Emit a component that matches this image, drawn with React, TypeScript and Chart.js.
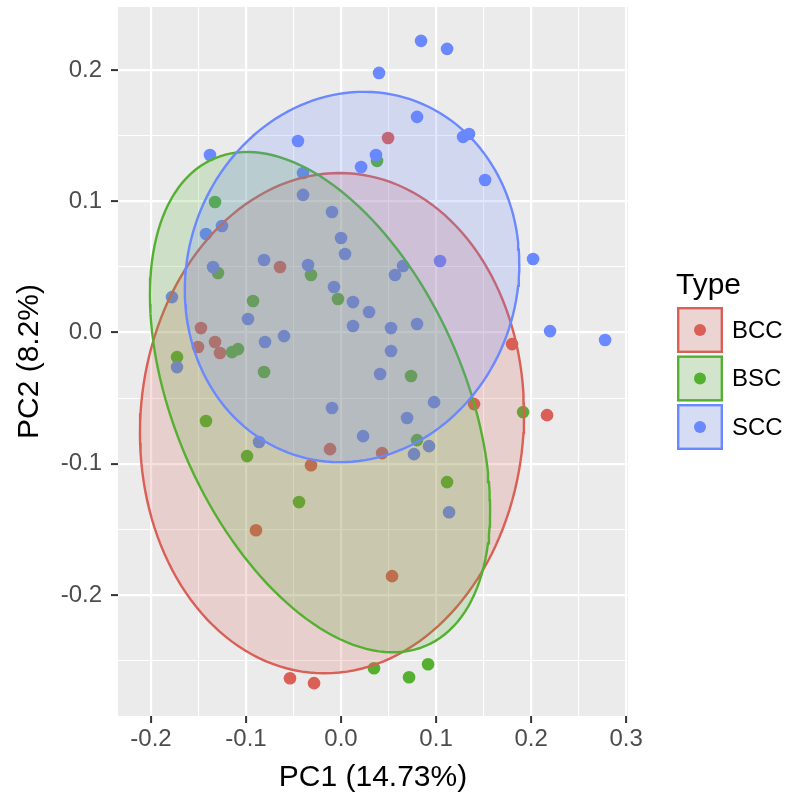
import React, { useEffect, useRef } from 'react';
import { Chart, registerables } from 'chart.js';
Chart.register(...registerables);

const FONT = "'Liberation Sans', Arial, Helvetica, sans-serif";

const typeNames = ['BCC', 'BSC', 'SCC'];
const typeColors = ['#D95F57', '#55B032', '#6A88FF'];
const typeFills = ['rgba(217,95,87,0.2)', 'rgba(85,176,50,0.2)', 'rgba(106,136,255,0.2)'];

const bccX = [0.0495, -0.0642, -0.1474, -0.1326, -0.1505, -0.1274, 0.18, 0.14, 0.2168, 0.0432, -0.0116, -0.0316, -0.0895, 0.0537, -0.0537, -0.0284];
const bccY = [0.1482, 0.0499, 0.0034, -0.0072, -0.011, -0.0156, -0.0088, -0.0545, -0.0629, -0.0918, -0.0888, -0.101, -0.1505, -0.1855, -0.2632, -0.267];

const bscX = [0.0379, -0.1326, -0.1295, -0.0316, -0.0032, -0.0926, -0.1084, -0.1147, -0.1726, -0.081, 0.0737, -0.1421, 0.1916, 0.08, -0.0989, 0.1116, -0.0442, 0.0347, 0.0716, 0.0916];
const bscY = [0.1307, 0.0994, 0.0453, 0.0438, 0.0255, 0.024, -0.0126, -0.0149, -0.0187, -0.0301, -0.0331, -0.0674, -0.0606, -0.0819, -0.0941, -0.1139, -0.1291, -0.2556, -0.2625, -0.2526];

const sccX = [0.0842, 0.1116, 0.04, 0.08, 0.1284, 0.1347, -0.0453, -0.1379, 0.0368, 0.0211, 0.1516, -0.04, -0.04, -0.0095, -0.1253, -0.1421, 0, 0.0042, -0.081, -0.0347, -0.1347, -0.0074, 0.0126, 0.0295, 0.0126, -0.1779, -0.0979, -0.06, -0.08, -0.1726, 0.2021, 0.1042, 0.0653, 0.0568, 0.0526, 0.08, 0.22, 0.2779, 0.0526, 0.0411, 0.0979, 0.0695, 0.0926, 0.0768, -0.0095, 0.0232, -0.0863, 0.1137];
const sccY = [0.2221, 0.216, 0.1977, 0.1642, 0.149, 0.1512, 0.1459, 0.1352, 0.1352, 0.1261, 0.1162, 0.1215, 0.1048, 0.0918, 0.0811, 0.075, 0.072, 0.0598, 0.0552, 0.0514, 0.0499, 0.0347, 0.0232, 0.0156, 0.005, 0.027, 0.0103, -0.0027, -0.0072, -0.0263, 0.056, 0.0545, 0.0507, 0.0438, 0.0034, 0.0065, 0.0011, -0.0057, -0.0141, -0.0316, -0.053, -0.0651, -0.0865, -0.0926, -0.0575, -0.0789, -0.0834, -0.1368];

// confidence ellipse parameters per type (center, half-extents, covariance term)
const ellipseCenterX = [-0.0095, -0.0221, 0.0116];
const ellipseCenterY = [-0.069, -0.053, 0.0423];
const ellipseHalfX = [0.2021, 0.179, 0.176];
const ellipseHalfY = [0.1905, 0.1905, 0.141];
const ellipseCov = [0.0015, -0.0146, 0.00175];

const xRange = [-0.2347, 0.302];
const yRange = [-0.292, 0.2479];

const xTitle = 'PC1 (14.73%)';
const yTitle = 'PC2 (8.2%)';
const legendTitle = 'Type';

function ellipsePath(i: number) {
  const l11 = ellipseHalfX[i];
  const l21 = ellipseCov[i] / l11;
  const l22 = Math.sqrt(ellipseHalfY[i] * ellipseHalfY[i] - l21 * l21);
  const pts: { x: number; y: number }[] = [];
  const n = 160;
  for (let k = 0; k <= n; k++) {
    const t = (k / n) * Math.PI * 2;
    pts.push({
      x: ellipseCenterX[i] + l11 * Math.cos(t),
      y: ellipseCenterY[i] + l21 * Math.cos(t) + l22 * Math.sin(t),
    });
  }
  return pts;
}

const isMajor = (v: number) => Math.abs(Math.round(v * 100)) % 10 === 0;
const fmt = (v: number) => {
  const r = Math.round(v * 10) / 10;
  return (Math.abs(r) < 1e-9 ? 0 : r).toFixed(1);
};

export default function App() {
  const ref = useRef<HTMLCanvasElement | null>(null);
  useEffect(() => {
    document.body.style.margin = '0';
    const canvas = ref.current!;
    const pointSets = [
      [bccX, bccY],
      [bscX, bscY],
      [sccX, sccY],
    ];
    const datasets: any[] = [];
    pointSets.forEach((s, i) => {
      datasets.push({
        label: typeNames[i],
        data: s[0].map((x, k) => ({ x, y: s[1][k] })),
        backgroundColor: typeColors[i],
        borderWidth: 0,
        pointRadius: 6.3,
        pointHoverRadius: 6.3,
        order: 12 - i,
      });
    });
    [0, 1, 2].forEach((i) => {
      datasets.push({
        label: typeNames[i] + ' ellipse',
        data: ellipsePath(i),
        showLine: true,
        fill: 'shape',
        backgroundColor: typeFills[i],
        borderColor: typeColors[i],
        borderWidth: 2.4,
        pointRadius: 0,
        pointHoverRadius: 0,
        tension: 0,
        order: 3 - i,
      });
    });

    const bgPlugin = {
      id: 'bg',
      beforeDraw(chart: any) {
        const { ctx, chartArea: a } = chart;
        ctx.save();
        ctx.fillStyle = '#ffffff';
        ctx.fillRect(0, 0, chart.width, chart.height);
        ctx.fillStyle = '#EBEBEB';
        ctx.fillRect(a.left, a.top, a.right - a.left, a.bottom - a.top);
        ctx.restore();
      },
    };

    const legendPlugin = {
      id: 'ggLegend',
      afterDraw(chart: any) {
        const ctx = chart.ctx;
        ctx.save();
        ctx.fillStyle = '#000';
        ctx.font = `30px ${FONT}`;
        ctx.textAlign = 'left';
        ctx.textBaseline = 'alphabetic';
        ctx.fillText(legendTitle, 676, 294);
        const x0 = 677, size = 46, pitch = 48.5, y00 = 307;
        typeNames.forEach((name, i) => {
          const y0 = y00 + i * pitch;
          ctx.fillStyle = '#F2F2F2';
          ctx.fillRect(x0, y0, size, size);
          ctx.fillStyle = typeFills[i];
          ctx.fillRect(x0, y0, size, size);
          ctx.strokeStyle = typeColors[i];
          ctx.lineWidth = 2.4;
          ctx.strokeRect(x0 + 1.2, y0 + 1.2, size - 2.4, size - 2.4);
          ctx.beginPath();
          ctx.arc(x0 + size / 2, y0 + size / 2, 6, 0, Math.PI * 2);
          ctx.fillStyle = typeColors[i];
          ctx.fill();
          ctx.fillStyle = '#000';
          ctx.font = `24px ${FONT}`;
          ctx.textBaseline = 'middle';
          ctx.fillText(name, 732, y0 + size / 2 + 1);
        });
        ctx.restore();
      },
    };

    const gridOpts = {
      color: '#ffffff',
      lineWidth: (c: any) => (c.tick && isMajor(c.tick.value) ? 2.2 : 1.1),
      tickColor: (c: any) => (c.tick && isMajor(c.tick.value) ? '#333333' : 'rgba(0,0,0,0)'),
      tickWidth: 2,
      tickLength: 7,
      drawTicks: true,
    };

    const chart = new Chart(canvas, {
      type: 'scatter',
      data: { datasets },
      plugins: [bgPlugin, legendPlugin],
      options: {
        animation: false,
        responsive: false,
        devicePixelRatio: 1,
        layout: { padding: { left: 0, right: 160, top: 7, bottom: 0 } },
        plugins: { legend: { display: false }, tooltip: { enabled: false } },
        scales: {
          x: {
            type: 'linear',
            min: xRange[0],
            max: xRange[1],
            border: { display: false },
            grid: gridOpts as any,
            ticks: {
              stepSize: 0.05,
              includeBounds: false,
              autoSkip: false,
              maxRotation: 0,
              padding: 2,
              color: '#4D4D4D',
              font: { family: FONT, size: 24 },
              callback: (v: any) => (isMajor(Number(v)) ? fmt(Number(v)) : ''),
            },
            title: {
              display: true,
              text: xTitle,
              color: '#000',
              font: { family: FONT, size: 30, lineHeight: 1.2 },
              padding: { top: 3, bottom: 0 },
            },
            afterFit: (s: any) => {
              s.height = 80;
              s.paddingLeft = 0;
              s.paddingRight = 0;
            },
          },
          y: {
            type: 'linear',
            min: yRange[0],
            max: yRange[1],
            border: { display: false },
            grid: gridOpts as any,
            ticks: {
              stepSize: 0.05,
              includeBounds: false,
              autoSkip: false,
              padding: 9,
              color: '#4D4D4D',
              font: { family: FONT, size: 24 },
              callback: (v: any) => (isMajor(Number(v)) ? fmt(Number(v)) : ''),
            },
            title: {
              display: true,
              text: yTitle,
              color: '#000',
              font: { family: FONT, size: 30, lineHeight: 1.2 },
              padding: { top: 12, bottom: 0 },
            },
            afterFit: (s: any) => {
              s.width = 118;
              s.paddingTop = 0;
              s.paddingBottom = 0;
            },
          },
        },
      },
    });
    return () => chart.destroy();
  }, []);
  return (
    <canvas
      ref={ref}
      width={788}
      height={796}
      style={{ display: 'block', position: 'absolute', left: 0, top: 0, width: 788, height: 796 }}
    />
  );
}
